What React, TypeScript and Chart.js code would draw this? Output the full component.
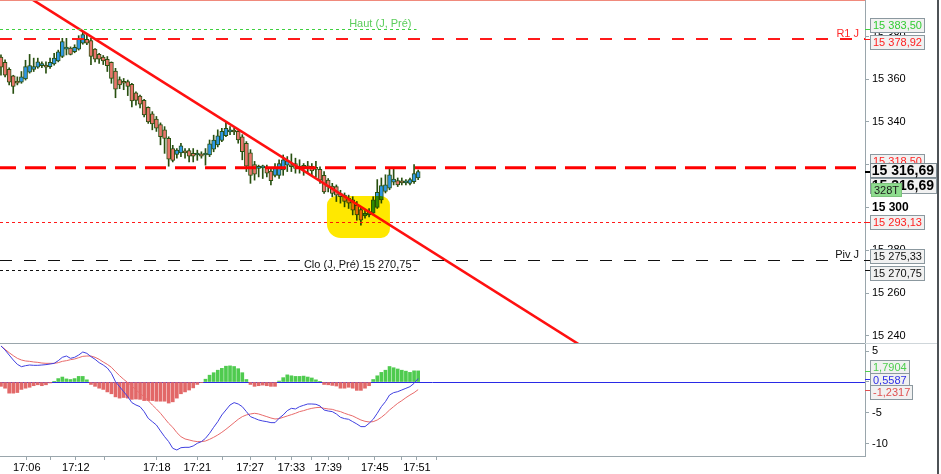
import React, { useEffect, useRef } from 'react';
import { Chart, registerables } from 'chart.js';

Chart.register(...registerables);

// ---------- data (328-tick candles) ----------
const OPEN = [
  15370.25, 15367.75, 15364.5, 15361.5, 15359.0, 15358.5, 15360.0, 15363.25, 15364.5, 15365.5,
  15366.25, 15366.5, 15365.75, 15367.0, 15368.5, 15370.5, 15374.0, 15374.5, 15372.75, 15374.0,
  15376.75, 15378.5, 15378.0, 15374.0, 15371.5, 15370.25, 15369.25, 15367.75, 15363.75, 15359.75,
  15358.75, 15358.75, 15357.5, 15353.5, 15352.0, 15350.0, 15346.75, 15343.75, 15341.25, 15338.75,
  15336.25, 15332.25, 15327.5, 15324.75, 15325.5, 15326.25, 15326.5, 15325.25, 15324.5, 15325.0,
  15324.5, 15324.5, 15327.25, 15329.25, 15331.25, 15333.5, 15335.25, 15336.0, 15335.5, 15333.0,
  15330.0, 15325.5, 15320.0, 15318.25, 15318.5, 15318.75, 15317.0, 15315.0, 15315.0, 15317.5,
  15319.75, 15319.75, 15320.5, 15319.0, 15319.0, 15318.75, 15319.25, 15318.25, 15317.75, 15315.0,
  15312.75, 15310.0, 15309.75, 15306.5, 15305.75, 15304.25, 15303.5, 15301.0, 15299.0, 15296.0,
  15296.5, 15297.25, 15300.0, 15303.5, 15307.5, 15309.0, 15311.75, 15312.5, 15311.75, 15311.5,
  15311.25, 15312.0, 15313.75,
];
const HIGH = [
  15371.25, 15369.0, 15365.25, 15361.75, 15361.0, 15363.5, 15368.75, 15371.5, 15369.75, 15369.75,
  15368.0, 15368.0, 15369.75, 15372.0, 15373.5, 15379.0, 15379.0, 15375.0, 15376.0, 15380.25,
  15382.0, 15380.5, 15379.0, 15374.25, 15372.0, 15371.0, 15370.5, 15368.0, 15365.0, 15361.0,
  15360.25, 15359.5, 15358.0, 15354.0, 15352.5, 15350.5, 15347.0, 15344.75, 15342.5, 15339.5,
  15337.75, 15333.0, 15329.0, 15327.5, 15330.0, 15327.5, 15327.5, 15327.5, 15326.75, 15326.0,
  15327.5, 15331.5, 15333.75, 15336.25, 15337.0, 15340.0, 15337.75, 15337.0, 15336.25, 15334.0,
  15330.75, 15327.0, 15321.5, 15319.75, 15319.75, 15319.75, 15318.25, 15320.5, 15322.25, 15324.5,
  15323.75, 15325.0, 15323.0, 15322.25, 15320.5, 15321.5, 15320.5, 15321.5, 15319.0, 15316.75,
  15313.5, 15311.25, 15310.5, 15308.0, 15306.75, 15305.75, 15305.0, 15302.75, 15300.25, 15298.75,
  15299.5, 15305.0, 15313.0, 15313.75, 15315.25, 15318.5, 15318.5, 15313.75, 15313.75, 15313.0,
  15313.75, 15320.0, 15317.5,
];
const LOW = [
  15361.75, 15361.0, 15357.25, 15353.25, 15357.25, 15358.0, 15359.5, 15362.75, 15363.5, 15365.0,
  15365.25, 15362.75, 15365.0, 15366.5, 15368.0, 15370.0, 15371.25, 15371.25, 15372.25, 15373.5,
  15376.25, 15376.0, 15366.75, 15368.0, 15367.25, 15366.75, 15363.5, 15358.0, 15351.25, 15355.5,
  15355.0, 15352.25, 15347.0, 15347.75, 15346.5, 15342.25, 15339.25, 15336.25, 15335.5, 15329.25,
  15325.25, 15319.25, 15321.25, 15323.0, 15323.75, 15323.0, 15321.25, 15321.25, 15322.0, 15323.0,
  15319.75, 15323.75, 15326.0, 15328.25, 15330.75, 15333.0, 15334.0, 15334.0, 15330.0, 15322.25,
  15316.75, 15311.25, 15312.75, 15314.25, 15313.5, 15314.25, 15310.5, 15314.25, 15313.5, 15315.0,
  15316.75, 15316.75, 15316.0, 15316.0, 15315.0, 15316.0, 15315.0, 15314.25, 15311.25, 15306.5,
  15307.25, 15305.0, 15302.75, 15302.0, 15300.25, 15299.5, 15296.5, 15294.0, 15291.75, 15295.0,
  15295.5, 15296.5, 15299.5, 15302.0, 15306.75, 15308.25, 15310.5, 15309.75, 15310.5, 15310.5,
  15310.5, 15311.25, 15313.0,
];
const CLOSE = [
  15365.5, 15361.75, 15358.5, 15356.5, 15358.0, 15361.0, 15365.75, 15366.25, 15365.75, 15368.0,
  15366.75, 15365.5, 15367.75, 15369.75, 15372.75, 15377.5, 15374.5, 15371.5, 15374.75, 15379.0,
  15380.75, 15376.75, 15370.5, 15369.25, 15369.25, 15368.5, 15366.25, 15360.25, 15355.25, 15357.25,
  15358.0, 15356.5, 15349.75, 15350.0, 15348.25, 15343.25, 15340.0, 15339.0, 15337.0, 15333.0,
  15332.25, 15322.5, 15322.0, 15326.75, 15328.75, 15325.5, 15324.0, 15324.0, 15325.25, 15324.0,
  15324.75, 15329.75, 15331.5, 15333.5, 15335.5, 15337.0, 15336.25, 15335.25, 15331.5, 15326.0,
  15319.25, 15315.0, 15315.5, 15319.0, 15318.75, 15316.0, 15312.5, 15318.25, 15320.5, 15322.25,
  15321.75, 15319.0, 15318.25, 15318.25, 15318.75, 15318.5, 15317.0, 15317.75, 15312.75, 15307.25,
  15309.75, 15306.5, 15305.75, 15305.0, 15302.75, 15302.0, 15298.75, 15296.5, 15294.0, 15297.25,
  15298.0, 15303.5, 15307.0, 15310.25, 15310.5, 15315.25, 15313.25, 15310.5, 15311.5, 15311.75,
  15313.0, 15315.75, 15316.69,
];

const MACD = [
  5.81, 5.16, 4.35, 3.55, 2.85, 2.47, 2.63, 2.74, 2.69, 2.69,
  2.74, 2.8, 2.9, 3.01, 3.44, 3.98, 4.19, 3.82, 3.98, 4.35,
  4.84, 4.62, 4.09, 3.66, 3.12, 2.74, 2.26, 1.4, 0.05, -0.75,
  -1.56, -2.37, -3.33, -3.71, -3.98, -4.78, -5.86, -6.4, -6.94, -7.9,
  -8.82, -9.62, -10.7, -10.97, -10.6, -10.54, -10.54, -10.32, -9.89, -9.62,
  -9.09, -8.28, -7.31, -6.4, -5.32, -4.52, -3.71, -3.33, -3.55, -3.98,
  -4.78, -5.59, -5.86, -6.13, -6.29, -6.4, -6.56, -6.56, -5.85, -5.32,
  -4.62, -4.25, -4.35, -3.98, -3.76, -3.55, -3.55, -3.6, -3.87, -4.52,
  -4.68, -4.78, -5.16, -5.7, -5.91, -6.02, -6.4, -6.77, -7.2, -7.2,
  -6.67, -6.02, -5.05, -3.98, -3.17, -2.1, -1.72, -1.56, -1.29, -1.02,
  -0.75, -0.22, 0.56,
];
const SIGNAL = [
  5.81, 5.27, 4.73, 4.25, 3.82, 3.55, 3.39, 3.33, 3.23, 3.17,
  3.06, 3.01, 3.01, 3.01, 3.12, 3.33, 3.44, 3.6, 3.71, 3.92,
  4.14, 4.19, 4.19, 3.98, 3.66, 3.23, 2.85, 2.37, 1.67, 1.02,
  0.43, -0.11, -0.65, -1.29, -1.83, -2.37, -3.01, -3.71, -4.35, -5.05,
  -5.86, -6.67, -7.31, -8.17, -8.82, -9.19, -9.35, -9.52, -9.62, -9.62,
  -9.52, -9.25, -8.92, -8.55, -8.12, -7.63, -7.1, -6.56, -6.02, -5.59,
  -5.32, -5.16, -5.05, -5.16, -5.38, -5.59, -5.81, -5.97, -5.91, -5.7,
  -5.48, -5.27, -5.05, -4.78, -4.62, -4.41, -4.25, -4.14, -4.09, -4.25,
  -4.35, -4.41, -4.62, -4.78, -5.05, -5.27, -5.48, -5.81, -6.13, -6.34,
  -6.45, -6.4, -6.13, -5.7, -5.16, -4.52, -3.98, -3.44, -3.01, -2.53,
  -2.1, -1.72, -1.23,
];
const HIST = [
  -0.7, -1.0, -1.8, -1.8, -1.7, -1.2, -1.0, -0.85, -0.6, -0.45,
  -0.6, -0.45, -0.15, 0.05, 0.55, 0.8, 0.5, 0.4, 0.55, 0.9,
  0.9, 0.35, -0.4, -0.7, -1.0, -1.2, -1.6, -1.9, -2.4, -2.6,
  -2.5, -2.6, -2.8, -2.75, -2.8, -3.0, -3.0, -3.0, -3.1, -3.1,
  -3.1, -3.4, -3.2, -2.6, -1.9, -1.6, -1.3, -0.95, -0.4, -0.05,
  0.45, 1.1, 1.5, 1.9, 2.2, 2.55, 2.6, 2.5, 2.15, 1.5,
  0.4, -0.4, -0.7, -0.6, -0.5, -0.6, -0.7, -0.7, 0.15, 0.7,
  1.15, 1.0, 0.9, 0.9, 0.95, 0.8, 0.65, 0.35, 0.05, -0.4,
  -0.45, -0.55, -0.65, -1.0, -1.0, -0.85, -1.0, -1.35, -1.35, -1.0,
  -0.6, 0.4, 1.0, 1.55, 1.9, 2.5, 2.3, 2.1, 1.9, 1.75,
  1.55, 1.8, 1.79,
];

const TIME_TICKS = [6.3, 12.2, 18.3, 25.2, 38.1, 48, 54.2, 60.9, 67, 71, 76, 80, 85, 91.4, 98, 101.7, 106.6];
const TIME_LABELS = ['17:06', '', '17:12', '', '17:18', '17:21', '', '17:27', '', '17:33', '', '17:39', '', '17:45', '', '17:51', ''];
const PRICE_TICKS = [15240, 15250, 15260, 15270, 15280, 15290, 15300, 15310, 15320, 15330, 15340, 15350, 15360, 15370, 15380, 15390];
const MACD_TICKS = [-10, -5, 0, 5];

const LEVEL_HAUT = 15383.5;
const LEVEL_R1 = 15378.92;
const LEVEL_RES = 15318.5;
const LEVEL_SUP = 15293.13;
const LEVEL_PIV = 15275.33;
const LEVEL_CLO = 15270.75;
const LAST_PRICE = 15316.69;
const BAR_TYPE = '328T';
const HIST_LAST = 1.7904;
const MACD_LAST = 0.5587;
const SIGNAL_LAST = -1.2317;
const SESSION_END = 101.6;

const TREND_X = [7.8, 141.3];
const TREND_Y = [15397, 15236];
const HILITE_X = [79.7, 95.1];
const HILITE_Y = [15305.3, 15285.7];

// axis ranges
const X_MIN = -0.24;
const X_MAX = 211.25;
const Y_MIN = 15236.17;
const Y_MAX = 15396.92;
const M_MIN = -11.94;
const M_MAX = 6.13;

// ---------- styles ----------
const FONT = '"Liberation Sans", Arial, sans-serif';
const C_BLUE = '#2f98e6';
const C_RED = '#e8766c';
const C_EDGE = '#285010';
const AXIS = '#9aa6ac';

function fmt(v: number, dec: number): string {
  const s = Math.abs(v).toFixed(dec);
  const [ip, dp] = s.split('.');
  const g = ip.replace(/\B(?=(\d{3})+(?!\d))/g, ' ');
  return (v < 0 ? '-' : '') + g + (dp ? ',' + dp : '');
}

function resolve(c: number[], sep: number): number[] {
  const r = c.slice();
  for (let k = 0; k < 60; k++) {
    for (let i = 1; i < r.length; i++) {
      const d = r[i] - r[i - 1];
      if (d < sep) {
        const s = (sep - d) / 2;
        r[i - 1] -= s;
        r[i] += s;
      }
    }
  }
  return r;
}

function drawBox(ctx: CanvasRenderingContext2D, text: string, color: string, cy: number, o: any) {
  ctx.font = o.font;
  const tw = ctx.measureText(text).width;
  const x0 = o.x ?? 870;
  const w = o.w ?? Math.round(tw + 6);
  const top = Math.round(cy - o.h / 2);
  ctx.fillStyle = o.bg ?? '#f1f1f1';
  ctx.fillRect(x0, top, w, o.h);
  ctx.strokeStyle = o.border ?? '#8b989f';
  ctx.lineWidth = o.bw ?? 1;
  ctx.strokeRect(x0 + 0.5, top + 0.5, w - 1, o.h - 1);
  ctx.fillStyle = color;
  ctx.textBaseline = 'middle';
  if (o.align === 'right') {
    ctx.textAlign = 'right';
    ctx.fillText(text, x0 + w - 3, top + o.h / 2 + 0.5);
  } else {
    ctx.textAlign = 'left';
    ctx.fillText(text, x0 + 3, top + o.h / 2 + 0.5);
  }
}

const overlay = {
  id: 'overlay',
  beforeDatasetsDraw(chart: any) {
    const { ctx, scales } = chart;
    const x = scales.x;
    const y2 = scales.y2;
    const zy = Math.round(y2.getPixelForValue(0)) + 0.5;
    ctx.save();
    ctx.strokeStyle = '#2a2ae6';
    ctx.lineWidth = 1;
    ctx.beginPath();
    ctx.moveTo(x.left, zy);
    ctx.lineTo(x.right, zy);
    ctx.stroke();
    ctx.restore();
  },
  afterDatasetsDraw(chart: any) {
    const { ctx, scales } = chart;
    const x = scales.x;
    const y = scales.y;
    const L = x.left;
    const R = x.right;
    ctx.save();
    ctx.beginPath();
    ctx.rect(L, y.top, R - L, y.bottom - y.top);
    ctx.clip();
    const crisp = (v: number) => Math.round(y.getPixelForValue(v)) + 0.5;
    const hline = (py: number, color: string, width: number, dash: number[], x1: number, off = 0) => {
      ctx.strokeStyle = color;
      ctx.lineWidth = width;
      ctx.setLineDash(dash);
      ctx.lineDashOffset = off;
      ctx.beginPath();
      ctx.moveTo(L, py);
      ctx.lineTo(x1, py);
      ctx.stroke();
    };
    const endX = x.getPixelForValue(SESSION_END);
    hline(crisp(LEVEL_HAUT), '#3fcf3f', 1, [3, 3], endX);
    hline(Math.round(y.getPixelForValue(LEVEL_R1)), '#ff1a1a', 2, [12, 12], R);
    hline(y.getPixelForValue(LEVEL_RES), '#ff0000', 3, [21, 9], R, 5);
    hline(crisp(LEVEL_SUP), '#ff1a1a', 1, [3, 3], R);
    hline(crisp(LEVEL_PIV), '#111111', 1, [12, 12], R);
    hline(crisp(LEVEL_CLO), '#111111', 1, [3, 3], endX);
    ctx.setLineDash([]);

    ctx.font = `11px ${FONT}`;
    ctx.textBaseline = 'alphabetic';
    ctx.textAlign = 'right';
    ctx.fillStyle = '#5ccd5c';
    ctx.fillText('Haut (J, Pré)', endX - 5, crisp(LEVEL_HAUT) - 3);
    ctx.fillStyle = '#ff2a2a';
    ctx.fillText('R1 J', R - 6, crisp(LEVEL_R1) - 2.5);
    ctx.fillStyle = '#111111';
    ctx.fillText('Piv J', R - 6, crisp(LEVEL_PIV) - 2.5);
    const clo = 'Clo (J, Pré) ' + fmt(LEVEL_CLO, 2);
    const cw = ctx.measureText(clo).width;
    ctx.fillStyle = '#ffffff';
    ctx.fillRect(endX - 5 - cw - 1, crisp(LEVEL_PIV) - 3, cw + 2, 6);
    ctx.fillStyle = '#111111';
    ctx.fillText(clo, endX - 5, crisp(LEVEL_CLO) - 2.5);

    // yellow marker highlight
    const hx0 = x.getPixelForValue(HILITE_X[0]);
    const hx1 = x.getPixelForValue(HILITE_X[1]);
    const hy0 = y.getPixelForValue(HILITE_Y[0]);
    const hy1 = y.getPixelForValue(HILITE_Y[1]);
    ctx.globalCompositeOperation = 'multiply';
    ctx.fillStyle = 'rgb(255,232,0)';
    ctx.beginPath();
    (ctx as any).roundRect(hx0, hy0, hx1 - hx0, hy1 - hy0, [9, 9, 9, 14]);
    ctx.fill();
    ctx.restore();
  },
  afterDraw(chart: any) {
    const { ctx, scales } = chart;
    const x = scales.x;
    const y = scales.y;
    const y2 = scales.y2;
    const R = x.right;
    ctx.save();
    ctx.fillStyle = '#f08a7c';
    ctx.fillRect(0, 0, R, 1);
    ctx.fillStyle = AXIS;
    ctx.fillRect(0, Math.round(y.bottom) - 1, R, 1);
    ctx.fillStyle = '#cfd6da';
    ctx.fillRect(R, Math.round(y.bottom) - 1, 72, 1);
    ctx.fillStyle = '#4d5256';
    ctx.fillRect(937, 0, 2, chart.height);

    const px = (v: number) => y.getPixelForValue(v);
    const mark = (py: number, color: string, w = 1) => {
      ctx.fillStyle = color;
      ctx.fillRect(R, Math.round(py) - (w > 1 ? 1 : 0), 5, w);
    };
    mark(px(LEVEL_HAUT), '#3fcf3f');
    mark(px(LEVEL_R1), '#ff1a1a');
    mark(px(LEVEL_SUP), '#ff1a1a');
    mark(px(LEVEL_PIV), '#111111');
    mark(px(LEVEL_CLO), '#111111');

    const f11 = `11px ${FONT}`;
    const fB = `bold 14px ${FONT}`;
    const g1 = resolve([px(LEVEL_HAUT), px(LEVEL_R1)], 17);
    drawBox(ctx, fmt(LEVEL_HAUT, 2), '#33cc33', g1[0], { font: f11, h: 15 });
    drawBox(ctx, fmt(LEVEL_R1, 2), '#ff2020', g1[1], { font: f11, h: 15 });

    const cur = px(LAST_PRICE) - 1;
    drawBox(ctx, fmt(LEVEL_RES, 2), '#ff2020', cur - 10, { font: f11, h: 14 });
    drawBox(ctx, fmt(LAST_PRICE, 2), '#000000', cur + 15, { font: fB, h: 16, w: 67, align: 'right' });
    drawBox(ctx, BAR_TYPE, '#1a1a1a', cur + 19, { font: f11, h: 14, x: 871, bg: '#8edc8e', border: '#7cc27c' });
    drawBox(ctx, fmt(LAST_PRICE, 2), '#000000', cur, { font: fB, h: 15, w: 67, align: 'right', border: '#7d8a91' });
    mark(px(LAST_PRICE), '#000000', 2);

    drawBox(ctx, fmt(LEVEL_SUP, 2), '#ff2020', px(LEVEL_SUP), { font: f11, h: 15 });
    const g2 = resolve([px(LEVEL_PIV), px(LEVEL_CLO)], 16.5);
    drawBox(ctx, fmt(LEVEL_PIV, 2), '#111111', g2[0], { font: f11, h: 15 });
    drawBox(ctx, fmt(LEVEL_CLO, 2), '#111111', g2[1], { font: f11, h: 15 });

    const mp = (v: number) => y2.getPixelForValue(v);
    mark(mp(HIST_LAST), '#4fcf4f');
    mark(mp(MACD_LAST), '#2f2fe6');
    mark(mp(SIGNAL_LAST), '#e05050');
    const g3 = resolve([mp(HIST_LAST), mp(MACD_LAST), mp(SIGNAL_LAST)], 13);
    drawBox(ctx, fmt(HIST_LAST, 4), '#4fcf4f', g3[0], { font: f11, h: 14 });
    drawBox(ctx, fmt(MACD_LAST, 4), '#2f2fe6', g3[1], { font: f11, h: 14 });
    drawBox(ctx, fmt(SIGNAL_LAST, 4), '#e05050', g3[2], { font: f11, h: 15 });
    ctx.restore();
  },
};

export default function App() {
  const ref = useRef<HTMLCanvasElement | null>(null);
  useEffect(() => {
    document.body.style.margin = '0';
    const canvas = ref.current;
    if (!canvas) return;
    const idx = OPEN.map((_, i) => i);
    const chart = new Chart(canvas, {
      type: 'bar',
      data: {
        datasets: [
          {
            type: 'line',
            data: TREND_X.map((v, i) => ({ x: v, y: TREND_Y[i] })),
            borderColor: '#ff1010',
            borderWidth: 2.5,
            pointRadius: 0,
            yAxisID: 'y',
            order: 0,
          } as any,
          {
            type: 'bar',
            data: idx.map((i) => ({ x: i, y: [OPEN[i], CLOSE[i]] })),
            backgroundColor: idx.map((i) => (CLOSE[i] >= OPEN[i] ? C_BLUE : C_RED)),
            borderColor: C_EDGE,
            borderWidth: 1,
            borderSkipped: false,
            barThickness: 4,
            minBarLength: 2,
            grouped: false,
            yAxisID: 'y',
            order: 1,
          } as any,
          {
            type: 'bar',
            data: idx.map((i) => ({ x: i, y: [LOW[i], HIGH[i]] })),
            backgroundColor: C_EDGE,
            borderWidth: 0,
            barThickness: 1,
            grouped: false,
            yAxisID: 'y',
            order: 2,
          } as any,
          {
            type: 'line',
            data: idx.map((i) => ({ x: i, y: MACD[i] })),
            borderColor: '#4040e0',
            borderWidth: 1,
            pointRadius: 0,
            yAxisID: 'y2',
            order: 3,
          } as any,
          {
            type: 'line',
            data: idx.map((i) => ({ x: i, y: SIGNAL[i] })),
            borderColor: '#e86a6a',
            borderWidth: 1,
            pointRadius: 0,
            yAxisID: 'y2',
            order: 4,
          } as any,
          {
            type: 'bar',
            data: idx.map((i) => ({ x: i, y: HIST[i] })),
            backgroundColor: idx.map((i) => (HIST[i] >= 0 ? '#4fcb4f' : '#e26868')),
            borderWidth: 0,
            barThickness: 3,
            grouped: false,
            yAxisID: 'y2',
            order: 5,
          } as any,
        ],
      },
      options: {
        responsive: false,
        animation: false,
        devicePixelRatio: 1,
        events: [],
        layout: { padding: { left: 0, right: 3, top: 0, bottom: 0 } },
        plugins: { legend: { display: false }, tooltip: { enabled: false } },
        scales: {
          x: {
            type: 'linear',
            min: X_MIN,
            max: X_MAX,
            offset: false,
            grid: { display: true, drawOnChartArea: false, drawTicks: true, tickLength: 4, color: AXIS, offset: false },
            border: { display: true, color: AXIS },
            ticks: {
              autoSkip: false,
              maxRotation: 0,
              padding: 1,
              color: '#000000',
              font: { size: 11, family: FONT },
              callback: (_v: any, i: number) => TIME_LABELS[i] ?? '',
            },
            afterBuildTicks: (s: any) => {
              s.ticks = TIME_TICKS.map((v) => ({ value: v }));
            },
            afterFit: (s: any) => {
              s.height = 18;
              s.paddingLeft = 0;
              s.paddingRight = 0;
            },
          },
          y: {
            type: 'linear',
            position: 'right',
            stack: 'panes',
            stackWeight: 344,
            min: Y_MIN,
            max: Y_MAX,
            beginAtZero: false,
            offset: false,
            grid: { drawOnChartArea: false, drawTicks: true, tickLength: 4, color: AXIS },
            border: { display: true, color: AXIS },
            ticks: {
              padding: 3,
              color: '#000000',
              font: (c: any) => ({
                size: c.tick && c.tick.value % 100 === 0 ? 12 : 11,
                weight: c.tick && c.tick.value % 100 === 0 ? 'bold' : 'normal',
                family: FONT,
              }),
              callback: (v: any) => (Number(v) % 20 === 0 ? fmt(Number(v), 0) : ''),
            },
            afterBuildTicks: (s: any) => {
              s.ticks = PRICE_TICKS.map((v) => ({ value: v }));
            },
            afterFit: (s: any) => {
              s.width = 73;
              s.paddingTop = 0;
              s.paddingBottom = 0;
            },
          },
          y2: {
            type: 'linear',
            position: 'right',
            stack: 'panes',
            stackWeight: 112,
            min: M_MIN,
            max: M_MAX,
            beginAtZero: false,
            offset: false,
            grid: { drawOnChartArea: false, drawTicks: true, tickLength: 4, color: AXIS },
            border: { display: true, color: AXIS },
            ticks: {
              padding: 3,
              color: '#000000',
              font: { size: 11, family: FONT },
              callback: (v: any) => String(v),
            },
            afterBuildTicks: (s: any) => {
              s.ticks = MACD_TICKS.map((v) => ({ value: v }));
            },
            afterFit: (s: any) => {
              s.width = 73;
              s.paddingTop = 0;
              s.paddingBottom = 0;
            },
          },
        },
      } as any,
      plugins: [overlay as any],
    });
    return () => chart.destroy();
  }, []);
  return <canvas ref={ref} width={941} height={474} style={{ display: 'block' }} />;
}
